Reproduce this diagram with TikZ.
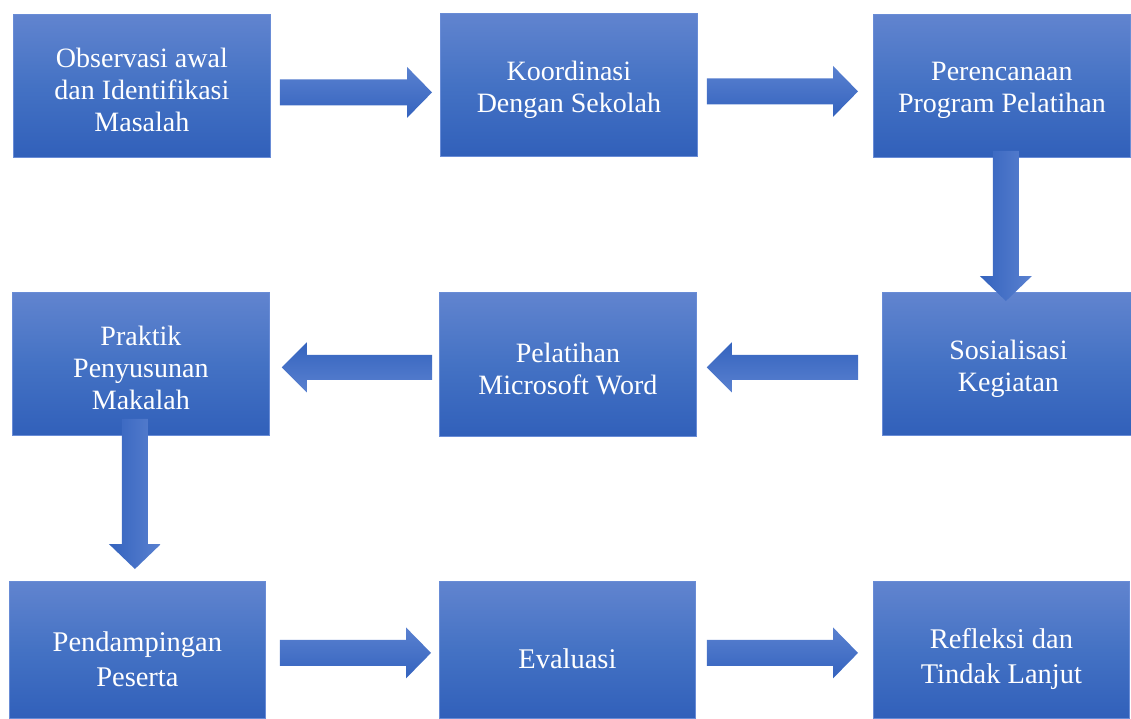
\documentclass[tikz,border=0pt]{standalone}
\usepackage{fontspec}
\setmainfont{Liberation Serif}
\usetikzlibrary{calc}
\definecolor{boxtop}{RGB}{97,132,207}
\definecolor{boxmid}{RGB}{68,114,196}
\definecolor{boxbot}{RGB}{49,96,186}
\definecolor{boxline}{RGB}{105,140,214}
\definecolor{arrlight}{RGB}{90,129,208}
\definecolor{arrdark}{RGB}{52,99,190}
\newcommand\rarrow[2]{\path[arrowshape, top color=arrlight, bottom color=arrdark] let \p1=(#1), \p2=(#2) in (\x1,\y1+13pt) -- (\x2-25pt,\y1+13pt) -- (\x2-25pt,\y1+25.5pt) -- (\x2,\y1) -- (\x2-25pt,\y1-25.5pt) -- (\x2-25pt,\y1-13pt) -- (\x1,\y1-13pt) -- cycle;}
\newcommand\larrow[2]{\path[arrowshape, top color=arrdark, bottom color=arrlight] let \p1=(#1), \p2=(#2) in (\x1,\y1+12.5pt) -- (\x2+25pt,\y1+12.5pt) -- (\x2+25pt,\y1+25pt) -- (\x2,\y1) -- (\x2+25pt,\y1-25pt) -- (\x2+25pt,\y1-12.5pt) -- (\x1,\y1-12.5pt) -- cycle;}
\newcommand\darrow[2]{\path[arrowshape, left color=arrdark, right color=arrlight] let \p1=(#1), \p2=(#2) in (\x1-13pt,\y1) -- (\x1-13pt,\y2+25pt) -- (\x1-26pt,\y2+25pt) -- (\x1,\y2) -- (\x1+26pt,\y2+25pt) -- (\x1+13pt,\y2+25pt) -- (\x1+13pt,\y1) -- cycle;}
\begin{document}
\begin{tikzpicture}[x=1pt,y=-1pt,
  flowbox/.style={draw=boxline, line width=0.8pt, top color=boxtop, bottom color=boxbot, middle color=boxmid,
    minimum width=257pt, minimum height=143pt, inner sep=0pt, anchor=north west},
  boxtext/.style={text=white, align=center, font=\fontsize{28}{32}\selectfont, inner sep=0pt, yshift=-4.5pt},
  lowtext/.style={boxtext, font=\fontsize{28.5}{35}\selectfont, yshift=-4.5pt},
  lowbox/.style={flowbox, minimum height=137pt},
  arrowshape/.style={draw=none}]
\useasboundingbox (0,0) rectangle (1131,718);
\node[flowbox, label={[boxtext]center:Observasi awal\\dan Identifikasi\\Masalah}] (b1) at (13,14) {};
\node[flowbox, label={[boxtext]center:Koordinasi\\Dengan Sekolah}] (b2) at (440,13) {};
\node[flowbox, label={[boxtext]center:Perencanaan\\Program Pelatihan}] (b3) at (873,14) {};
\node[flowbox, label={[boxtext]center:Praktik\\Penyusunan\\Makalah}] (b4) at (12,292) {};
\node[flowbox, minimum height=144pt, label={[boxtext]center:Pelatihan\\Microsoft Word}] (b5) at (439,292) {};
\node[flowbox, minimum width=252pt, label={[boxtext]center:Sosialisasi\\Kegiatan}] (b6) at (882,292) {};
\node[lowbox, minimum width=256pt, label={[lowtext]center:Pendampingan\\Peserta}] (b7) at (9,581) {};
\node[lowbox, minimum width=256pt, label={[lowtext]center:Evaluasi}] (b8) at (439,581) {};
\node[lowbox, minimum width=256pt, label={[lowtext]center:Refleksi dan\\Tindak Lanjut}] (b9) at (873,581) {};
% connectors
\coordinate (a1s) at ($(b1.east)+(9,6.5)$);
\coordinate (a1e) at ($(b2.west)+(-8,6.5)$);
\rarrow{a1s}{a1e}
\coordinate (a2s) at ($(b2.east)+(9,6.5)$);
\coordinate (a2e) at ($(b3.west)+(-15,6.5)$);
\rarrow{a2s}{a2e}
\coordinate (a3s) at ($(b3.south)+(4,-7)$);
\coordinate (a3e) at ($(b6.north)+(-1,9)$);
\darrow{a3s}{a3e}
\coordinate (a4s) at ($(b6.west)+(-24,3.5)$);
\coordinate (a4e) at ($(b5.east)+(10,3.5)$);
\larrow{a4s}{a4e}
\coordinate (a5s) at ($(b5.west)+(-7,3)$);
\coordinate (a5e) at ($(b4.east)+(12,3)$);
\larrow{a5s}{a5e}
\coordinate (a6s) at ($(b4.south)+(-6,-17)$);
\coordinate (a6e) at ($(b7.north)+(-3,-12)$);
\darrow{a6s}{a6e}
\coordinate (a7s) at ($(b7.east)+(14,3)$);
\coordinate (a7e) at ($(b8.west)+(-8,3)$);
\rarrow{a7s}{a7e}
\coordinate (a8s) at ($(b8.east)+(11,3)$);
\coordinate (a8e) at ($(b9.west)+(-15,3)$);
\rarrow{a8s}{a8e}
\end{tikzpicture}
\end{document}
